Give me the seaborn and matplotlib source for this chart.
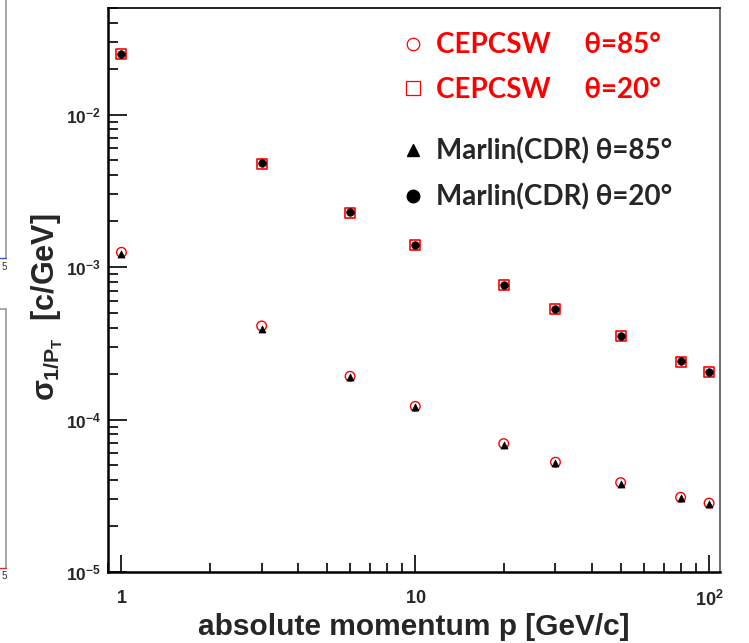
import numpy as np
import pandas as pd
import matplotlib
matplotlib.use("Agg")
import matplotlib.pyplot as plt
import matplotlib.ticker as mticker
from matplotlib.lines import Line2D
import seaborn as sns

# ---------------- data ----------------
momentum = [1, 3, 6, 10, 20, 30, 50, 80, 100]
cepc_85 = [1.25e-3, 4.11e-4, 1.92e-4, 1.22e-4, 6.95e-5, 5.25e-5, 3.86e-5, 3.09e-5, 2.83e-5]
cepc_20 = [2.49e-2, 4.75e-3, 2.26e-3, 1.39e-3, 7.65e-4, 5.28e-4, 3.53e-4, 2.37e-4, 2.04e-4]
marlin_85 = [1.22e-3, 3.93e-4, 1.90e-4, 1.21e-4, 6.80e-5, 5.20e-5, 3.80e-5, 3.05e-5, 2.80e-5]
marlin_20 = [2.49e-2, 4.80e-3, 2.28e-3, 1.40e-3, 7.65e-4, 5.30e-4, 3.55e-4, 2.42e-4, 2.05e-4]

legend_labels = ["CEPCSW     \u03b8=85\u00b0", "CEPCSW     \u03b8=20\u00b0",
                 "Marlin(CDR) \u03b8=85\u00b0", "Marlin(CDR) \u03b8=20\u00b0"]
xtick_vals = [1, 10, 100]
xtick_labels = ["$1$", "$10$", "$10^{2}$"]
ytick_vals = [1e-5, 1e-4, 1e-3, 1e-2]
ytick_labels = ["$10^{-5}$", "$10^{-4}$", "$10^{-3}$", "$10^{-2}$"]
xlabel = "absolute momentum p [GeV/c]"
ylabel = r"$\sigma_{1/P_{T}}$  [c/GeV]"

# ---------------- style ----------------
sns.set_style("white")
plt.rcParams["font.family"] = ["Liberation Sans", "DejaVu Sans"]
plt.rcParams["mathtext.fontset"] = "custom"
plt.rcParams["mathtext.rm"] = "Liberation Sans:bold"
plt.rcParams["mathtext.it"] = "Liberation Sans:bold"
plt.rcParams["mathtext.bf"] = "Liberation Sans:bold"
plt.rcParams["mathtext.sf"] = "Liberation Sans:bold"

W, H = 749, 643
fig = plt.figure(figsize=(W / 100, H / 100), dpi=100)
ax = fig.add_axes([108 / W, 1 - 572 / H, (719.5 - 108) / W, (572 - 8) / H])

df = pd.DataFrame({"p": momentum, "c85": cepc_85, "c20": cepc_20,
                   "m85": marlin_85, "m20": marlin_20})

sns.scatterplot(data=df, x="p", y="c85", marker="o", s=48, facecolors="none",
                edgecolors="red", linewidth=1.0, ax=ax, zorder=3)
sns.scatterplot(data=df, x="p", y="c20", marker="s", s=52, facecolors="none",
                edgecolors="red", linewidth=1.2, ax=ax, zorder=3)
sns.scatterplot(data=df, x="p", y="m85", marker="^", s=26, color="black",
                edgecolor="black", linewidth=0.5, ax=ax, zorder=4)
sns.scatterplot(data=df, x="p", y="m20", marker="o", s=30, color="black",
                edgecolor="black", linewidth=0.5, ax=ax, zorder=4)

ax.set_xscale("log")
ax.set_yscale("log")
ax.set_xlim(0.9, 108.5)
ax.set_ylim(1e-5, 0.05)

ax.set_xticks(xtick_vals)
ax.set_xticklabels(xtick_labels)
ax.set_yticks(ytick_vals)
ax.set_yticklabels(ytick_labels)
ax.xaxis.set_minor_locator(mticker.LogLocator(base=10, subs=np.arange(2, 10)))
ax.yaxis.set_minor_locator(mticker.LogLocator(base=10, subs=np.arange(2, 10)))
ax.xaxis.set_minor_formatter(mticker.NullFormatter())
ax.yaxis.set_minor_formatter(mticker.NullFormatter())

ax.tick_params(axis="both", which="both", direction="in", top=False, right=False,
               bottom=True, left=True, color="black", width=1.2)
ax.tick_params(axis="y", which="major", length=14, labelsize=12.5, pad=5)
ax.tick_params(axis="y", which="minor", length=7.5)
ax.tick_params(axis="x", which="major", length=12.5, labelsize=13, pad=13)
ax.tick_params(axis="x", which="minor", length=6.5)

for side in ["left", "bottom", "top"]:
    ax.spines[side].set_color("black")
ax.spines["left"].set_linewidth(1.8)
ax.spines["bottom"].set_linewidth(1.8)
ax.spines["top"].set_linewidth(1.2)
ax.spines["right"].set_color("#555555")
ax.spines["right"].set_linewidth(1.2)

ax.set_xlabel(xlabel, fontsize=21.5, fontweight="bold")
ax.xaxis.set_label_coords(0.5, -0.073)
ax.set_ylabel(ylabel, fontsize=22, fontweight="bold")
ax.yaxis.set_label_coords(-0.071, 0.47)

# ---------------- legends ----------------
leg_font = {"family": ["Lato", "DejaVu Sans"], "weight": "bold", "size": 20}
h1 = [Line2D([], [], linestyle="none", marker="o", markersize=9, markerfacecolor="none",
             markeredgecolor="red", markeredgewidth=0.9),
      Line2D([], [], linestyle="none", marker="s", markersize=10, markerfacecolor="none",
             markeredgecolor="red", markeredgewidth=0.9)]
leg1 = ax.legend(h1, legend_labels[:2], loc="upper left", bbox_to_anchor=(0.478, 0.957),
                 frameon=False, prop=leg_font, handlelength=0.9, handletextpad=0.4,
                 labelspacing=0.68, borderpad=0, borderaxespad=0)
for t in leg1.get_texts():
    t.set_color("red")
ax.add_artist(leg1)

h2 = [Line2D([], [], linestyle="none", marker="^", markersize=9, color="black"),
      Line2D([], [], linestyle="none", marker="o", markersize=9, color="black")]
leg2 = ax.legend(h2, legend_labels[2:], loc="upper left", bbox_to_anchor=(0.478, 0.771),
                 frameon=False, prop=leg_font, handlelength=0.9, handletextpad=0.4,
                 labelspacing=0.68, borderpad=0, borderaxespad=0)

# ---------------- remnants of neighbouring panels at left edge ----------------
def fl(x0, y0, x1, y1, c, lw):
    fig.add_artist(Line2D([x0 / W, x1 / W], [1 - y0 / H, 1 - y1 / H], color=c,
                          linewidth=lw, transform=fig.transFigure))

fl(5.5, 0, 5.5, 258, "#999999", 1.2)
fl(0, 258, 6, 258, "#3355cc", 1.0)
fl(0, 309, 6, 309, "#999999", 1.2)
fl(5.5, 309, 5.5, 568, "#999999", 1.2)
fl(0, 568, 6, 568, "#cc3333", 1.0)
fig.text(4 / W, 1 - 267 / H, "5", fontsize=7, ha="center", va="center", color="#333333")
fig.text(4 / W, 1 - 576 / H, "5", fontsize=7, ha="center", va="center", color="#333333")

fig.savefig("out.png", dpi=100)
